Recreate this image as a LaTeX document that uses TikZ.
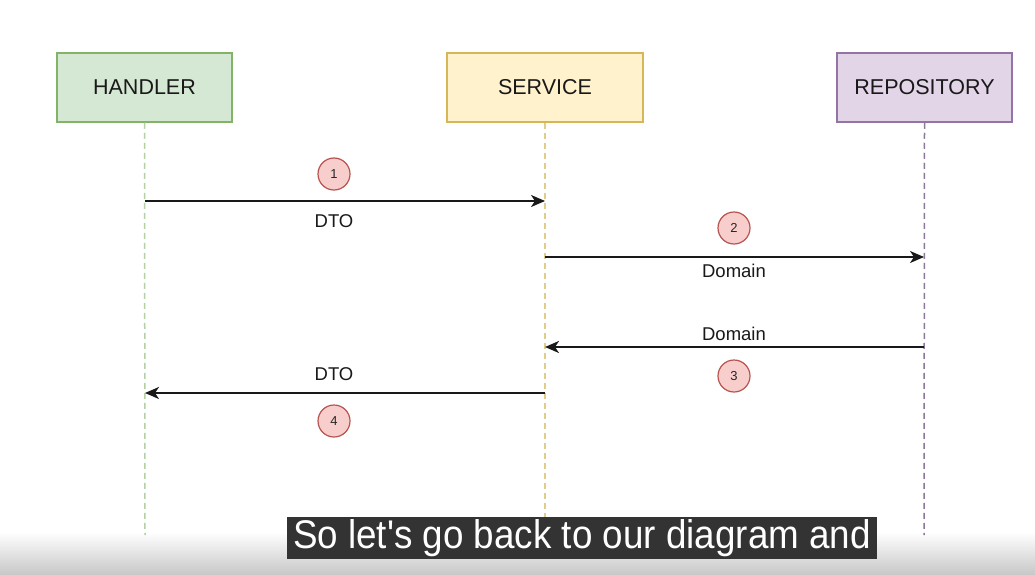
\documentclass[tikz,border=0pt]{standalone}
\usepackage{fontspec}
\setmainfont{Liberation Sans}
\usetikzlibrary{arrows.meta}
\definecolor{hfill}{HTML}{D5E8D4}\definecolor{hdraw}{HTML}{82B366}
\definecolor{sfill}{HTML}{FFF2CC}\definecolor{sdraw}{HTML}{D6B656}
\definecolor{rfill}{HTML}{E1D5E7}\definecolor{rdraw}{HTML}{9673A6}
\definecolor{cfill}{HTML}{F8CECC}\definecolor{cdraw}{HTML}{B85450}
\definecolor{subbg}{HTML}{333333}
\tikzset{
  actor/.style={draw, line width=1.5pt, minimum width=175pt, minimum height=69pt, inner sep=0pt,
    font=\fontsize{21.5}{24}\selectfont, text=black!90},
  life/.style={dashed, dash pattern=on 6pt off 4pt, line width=1.5pt},
  msg/.style={line width=2pt, draw=black!90, -{Stealth[length=14pt,width=12pt,inset=4pt]}},
  num/.style={circle, draw=cdraw, fill=cfill, line width=1.2pt, minimum size=32pt, inner sep=0pt,
    font=\fontsize{13}{15}\selectfont, text=black!85},
  lbl/.style={font=\fontsize{18.5}{21}\selectfont, text=black!90, inner sep=0pt},
}
\begin{document}
\begin{tikzpicture}[x=1pt,y=-1pt]
\useasboundingbox (0,0) rectangle (1035,575);
\fill[white] (0,0) rectangle (1035,575);
\shade[top color=white, bottom color=black!22] (0,532) rectangle (1035,575);
% actors
\node[actor, fill=hfill, draw=hdraw] (handler) at (144.5,87.5) {HANDLER};
\node[actor, fill=sfill, draw=sdraw, minimum width=196pt] (service) at (545,87.5) {SERVICE};
\node[actor, fill=rfill, draw=rdraw] (repo) at (924.5,87.5) {REPOSITORY};
% lifeline ends
\coordinate (hend) at (145,535);
\coordinate (send) at (545,535);
\coordinate (rend) at (924,535);
\draw[life, draw=hdraw!60] (handler.south) -- (hend);
\draw[life, draw=sdraw!70] (service.south) -- (send);
\draw[life, draw=rdraw!60!gray] (repo.south) -- (rend);
% message points
\coordinate (h1) at (145,201); \coordinate (s1) at (545,201);
\coordinate (s2) at (545,257); \coordinate (r2) at (924,257);
\coordinate (r3) at (924,347); \coordinate (s3) at (545,347);
\coordinate (s4) at (545,393); \coordinate (h4) at (145,393);
\draw[msg] (h1) -- (s1);
\draw[msg] (s2) -- (r2);
\draw[msg] (r3) -- (s3);
\draw[msg] (s4) -- (h4);
% numbers
\node[num] (n1) at (334,174) {1};
\node[num] (n2) at (734,228) {2};
\node[num] (n3) at (734,376) {3};
\node[num] (n4) at (334,421) {4};
% labels
\node[lbl] (l1) at (334,221) {DTO};
\node[lbl] (l2) at (734,271) {Domain};
\node[lbl] (l3) at (734,334) {Domain};
\node[lbl] (l4) at (334,374) {DTO};
% subtitle
\node[fill=subbg, text=white, minimum width=590pt, minimum height=42pt, inner sep=0pt,
  font=\fontsize{40}{42}\selectfont] (sub) at (582,538) {\scalebox{0.92}[1]{So let\textquotesingle s go back to our diagram and}};
\end{tikzpicture}
\end{document}
